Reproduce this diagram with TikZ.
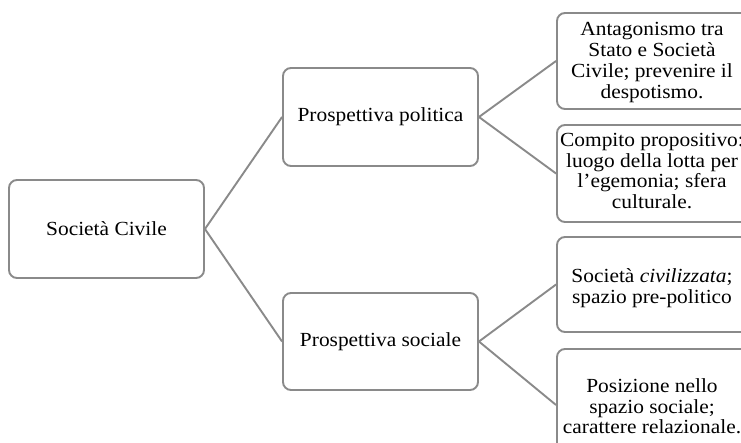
\documentclass[tikz,border=0pt]{standalone}
\usepackage{fontspec}
\setmainfont[FakeStretch=1.07]{Liberation Serif}
\definecolor{boxgray}{HTML}{8A8A8A}
\begin{document}
\begin{tikzpicture}[x=1pt,y=-1pt,
  box/.style={draw=boxgray, line width=1.9pt, rounded corners=8pt, fill=white,
    inner sep=0pt, minimum width=195pt},
  link/.style={draw=boxgray, line width=1.9pt},
  txt/.style={font=\fontsize{20}{20.7}\selectfont, align=center, inner sep=0pt}]
\useasboundingbox (0,0) rectangle (741,443);
\clip (0,0) rectangle (741,443);

% boxes
\node[box, minimum height=98pt] (root) at (106.5,229) {};
\node[box, minimum height=98pt] (pol) at (380.5,117) {};
\node[box, minimum height=97pt] (soc) at (380.5,341.5) {};
\node[box, minimum height=96pt] (r1) at (654.5,61) {};
\node[box, minimum height=97pt] (r2) at (654.5,173.5) {};
\node[box, minimum height=95pt] (r3) at (654.5,284.5) {};
\node[box, minimum height=112pt] (r4) at (654.5,405) {};

% connectors
\draw[link] (root.east) -- (pol.west);
\draw[link] (root.east) -- (soc.west);
\draw[link] (pol.east) -- (r1.west);
\draw[link] (pol.east) -- (r2.west);
\draw[link] (soc.east) -- (r3.west);
\draw[link] (soc.east) -- (r4.west);

% texts
\node[txt] (troot) at (root) {Società Civile};
\node[txt] (tpol) at (pol) {Prospettiva politica};
\node[txt] (tsoc) at (soc) {Prospettiva sociale};
\node[txt] (tr1) at (652,62.5) {Antagonismo tra\\Stato e Società\\Civile; prevenire il\\despotismo.};
\node[txt] (tr2) at (652,171) {Compito propositivo:\\luogo della lotta per\\l’egemonia; sfera\\culturale.};
\node[txt] (tr3) at (652,288) {Società \textit{civilizzata};\\spazio pre-politico};
\node[txt] (tr4) at (652,406.5) {Posizione nello\\spazio sociale;\\carattere relazionale.};
\end{tikzpicture}
\end{document}
